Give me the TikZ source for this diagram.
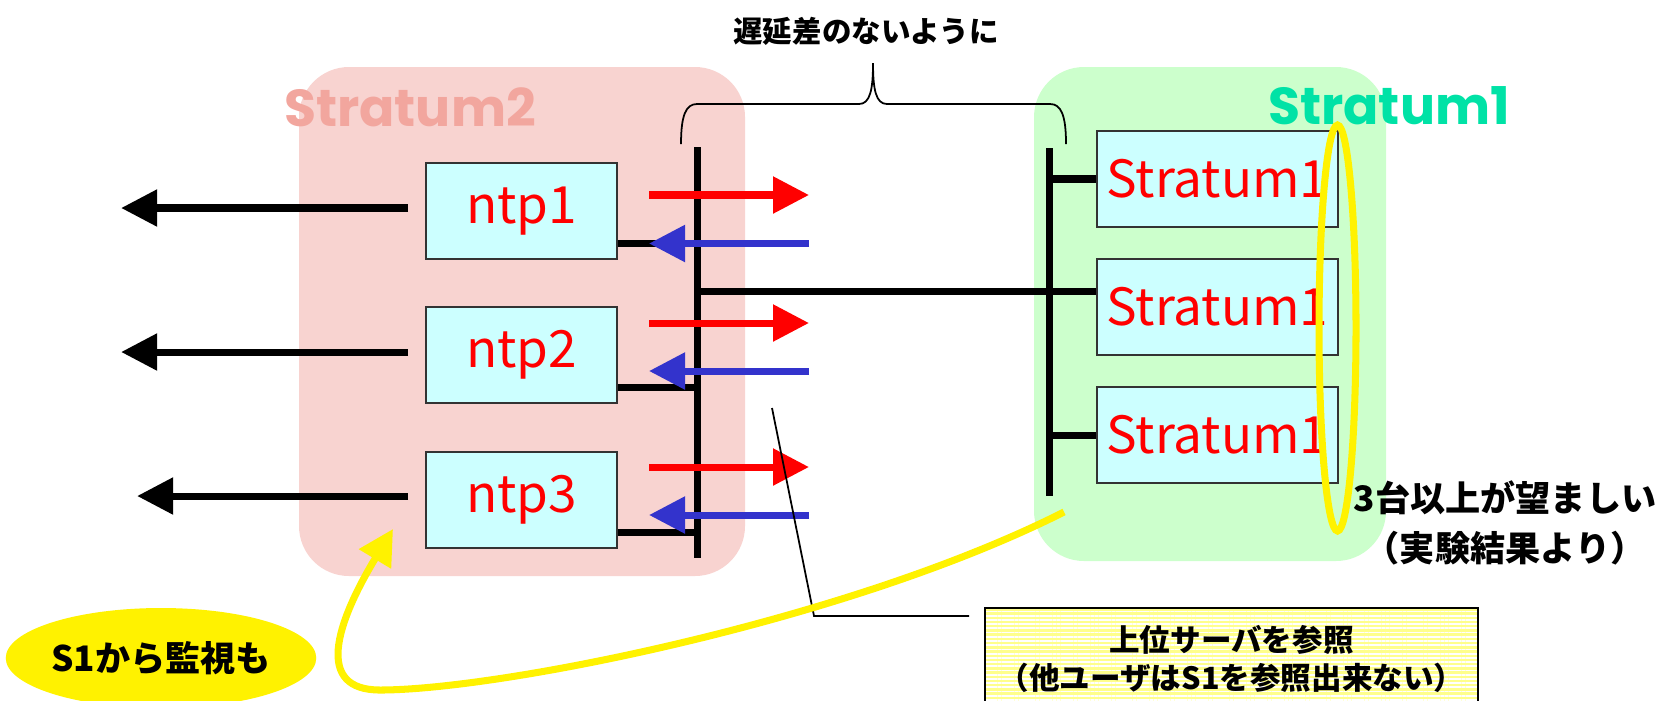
\documentclass[tikz,border=0pt]{standalone}
\usepackage{fontspec}
\setmainfont{Noto Sans CJK JP}
\newfontfamily\grpfont{Poppins}
\usetikzlibrary{arrows.meta,shapes.geometric,patterns.meta}
\definecolor{grppink}{RGB}{248,211,208}
\definecolor{grpgreen}{RGB}{204,255,204}
\definecolor{lblpink}{RGB}{242,166,158}
\definecolor{lblgreen}{RGB}{0,226,166}
\definecolor{srvcyan}{RGB}{204,255,255}
\definecolor{reqred}{RGB}{255,0,0}
\definecolor{resblue}{RGB}{51,51,204}
\definecolor{notefill}{RGB}{255,255,140}
\begin{document}
\begin{tikzpicture}[
            grp/.style={rectangle, rounded corners=0.5cm, inner sep=0pt},
            grplabel/.style={font=\grpfont\bfseries\fontsize{14.8}{18}\selectfont},
            srv/.style={rectangle, draw=black!80, line width=0.5pt, fill=srvcyan, text=reqred, minimum height=0.96cm, inner sep=0pt, font=\fontsize{14.6}{18}\selectfont},
            bus/.style={line width=2pt},
            flow/.style={line width=2pt, -{Triangle[length=3.6mm, width=3.55mm]}},
            remark/.style={font=\bfseries\fontsize{8.7}{10.8}\selectfont, align=center},
        ]
            \useasboundingbox (0,0) rectangle (16.61,7);
            % groups
            \node(grp2) at (5.22,3.785) [grp, fill=grppink, minimum width=4.46cm, minimum height=5.09cm] {};
            \node(grp1) at (12.10,3.86) [grp, fill=grpgreen, minimum width=3.52cm, minimum height=4.94cm] {};
            \node(grp2label) at (4.10,5.93) [grplabel, text=lblpink] {Stratum2};
            \node(grp1label) at (13.89,5.945) [grplabel, text=lblgreen] {Stratum1};
            % brace
            \draw[line width=0.5pt] (6.81,5.56) .. controls (6.81,5.85) and (6.86,5.96) .. (6.97,5.96) -- (8.59,5.96) .. controls (8.70,5.96) and (8.73,6.1) .. (8.73,6.37) .. controls (8.73,6.1) and (8.76,5.96) .. (8.87,5.96) -- (10.50,5.96) .. controls (10.61,5.96) and (10.66,5.85) .. (10.66,5.56);
            \node(delay) at (8.66,6.69) [font=\bfseries\fontsize{8.4}{10}\selectfont] {遅延差のないように};
            % servers
            \node(ntp1) at (5.215,4.89) [srv, minimum width=1.91cm] {ntp1};
            \node(ntp2) at (5.215,3.45) [srv, minimum width=1.91cm] {ntp2};
            \node(ntp3) at (5.215,2.00) [srv, minimum width=1.91cm] {ntp3};
            \node(s1a) at (12.175,5.21) [srv, minimum width=2.41cm] {Stratum1};
            \node(s1b) at (12.175,3.93) [srv, minimum width=2.41cm] {Stratum1};
            \node(s1c) at (12.175,2.65) [srv, minimum width=2.41cm] {Stratum1};
            % buses
            \coordinate(bus2top) at (6.975,5.53);
            \coordinate(bus2bot) at (6.975,1.42);
            \coordinate(bus1top) at (10.495,5.52);
            \coordinate(bus1bot) at (10.495,2.04);
            \coordinate(link) at (6.975,4.09);
            \draw[bus] (bus2top) -- (bus2bot);
            \draw[bus] (bus1top) -- (bus1bot);
            \draw[bus] (link) -- (link -| s1b.west);
            \draw[bus] (s1a.west) -- (s1a.west -| bus1top);
            \draw[bus] (s1c.west) -- (s1c.west -| bus1top);
            \draw[bus] ([yshift=1.6mm]ntp1.south east) -- ++(0.81,0);
            \draw[bus] ([yshift=1.6mm]ntp2.south east) -- ++(0.81,0);
            \draw[bus] ([yshift=1.6mm]ntp3.south east) -- ++(0.81,0);
            % clients
            \draw[flow] ([shift={(-0.17,0.03)}]ntp1.west) -- ++(-2.87,0);
            \draw[flow] ([shift={(-0.17,0.03)}]ntp2.west) -- ++(-2.87,0);
            \draw[flow] ([shift={(-0.17,0.04)}]ntp3.west) -- ++(-2.71,0);
            % requests and replies
            \draw[flow, reqred] (6.49,5.05) -- (8.09,5.05);
            \draw[flow, resblue] (8.09,4.565) -- (6.49,4.565);
            \draw[flow, reqred] (6.49,3.77) -- (8.09,3.77);
            \draw[flow, resblue] (8.09,3.29) -- (6.49,3.29);
            \draw[flow, reqred] (6.49,2.33) -- (8.09,2.33);
            \draw[flow, resblue] (8.09,1.85) -- (6.49,1.85);
            % note
            \coordinate(notept) at (7.72,2.92);
            \node(note) at (12.315,0.41) [remark, draw=black, line width=0.6pt, minimum width=4.93cm, minimum height=1.02cm, inner sep=0pt, preaction={fill=notefill}, pattern={Lines[angle=0, distance=1.2pt, line width=0.5pt]}, pattern color=white] {上位サーバを参照\\（他ユーザはS1を参照出来ない）};
            \draw[line width=0.5pt] (notept) -- (8.14,0.84) -- ([xshift=-1.5mm]note.west |- 8.14,0.84);
            % three or more
            \node(ring) at (13.375,3.72) [ellipse, draw=yellow, line width=2pt, minimum width=0.37cm, minimum height=4.06cm, inner sep=0pt] {};
            \node(three) at (15.05,1.77) [font=\bfseries\fontsize{10}{14.2}\selectfont, align=center] {3台以上が望ましい\\（実験結果より）};
            % monitoring
            \node(mon) at (1.61,0.42) [ellipse, fill=yellow, minimum width=3.04cm, minimum height=1.0cm, inner sep=0pt, font=\bfseries\fontsize{10}{12}\selectfont] {S1から監視も};
            \coordinate(monstart) at (10.64,1.88);
            \coordinate(montip) at (3.93,1.71);
            \draw[yellow, line width=2pt, -{Triangle[length=3.5mm, width=3.6mm]}] (monstart) .. controls (8.5,0.8) and (5.0,0.1) .. (3.8,0.1) .. controls (3.15,0.1) and (3.35,0.75) .. (montip);
        \end{tikzpicture}
\end{document}
